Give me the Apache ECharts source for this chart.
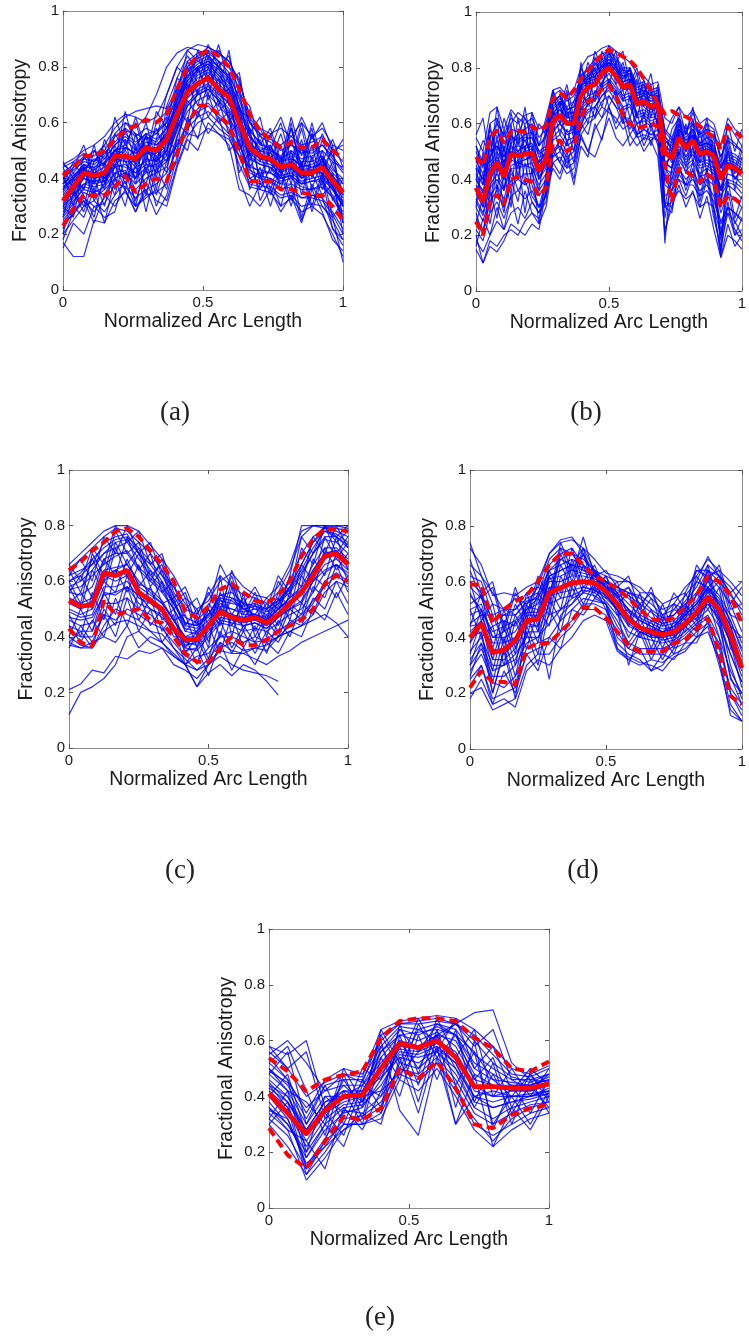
<!DOCTYPE html>
<html><head><meta charset="utf-8">
<script src="https://cdn.jsdelivr.net/npm/echarts@6/dist/echarts.min.js"></script>
<style>html,body{margin:0;padding:0;background:#fff}#c{width:749px;height:1341px}</style>
</head><body><div id="c"></div>
<script>
const yTicks=[0,0.2,0.4,0.6,0.8,1];
const xTicks=[0,0.5,1];
const xTitle='Normalized Arc Length';
const yTitle='Fractional Anisotropy';
const panelLabels=['(a)','(b)','(c)','(d)','(e)'];

// ---------- panel (a) ----------
const meanA=[.32,.37,.42,.41,.42,.48,.48,.47,.51,.50,.54,.63,.71,.74,.76,.72,.69,.60,.51,.48,.47,.44,.45,.42,.42,.44,.39,.35];
const upperA=[.41,.44,.48,.48,.50,.54,.57,.59,.61,.60,.63,.72,.80,.84,.86,.84,.80,.72,.63,.57,.54,.51,.53,.51,.51,.54,.50,.47];
const lowerA=[.23,.29,.34,.34,.34,.37,.41,.35,.38,.40,.39,.49,.59,.66,.66,.63,.59,.49,.39,.39,.39,.36,.36,.35,.34,.34,.30,.25];
const curvesA=[
[.45,.47,.50,.52,.55,.60,.63,.62,.60,.62,.70,.80,.86,.88,.87,.85,.82,.74,.63,.58,.56,.58,.55,.60,.55,.58,.52,.50],
[.17,.12,.12,.25,.24,.32,.35,.30,.33,.36,.32,.45,.55,.60,.62,.58,.55,.45,.37,.36,.35,.30,.33,.28,.30,.27,.20,.12],
[.35,.40,.45,.43,.46,.50,.52,.48,.55,.53,.58,.68,.77,.80,.82,.78,.74,.64,.55,.50,.49,.46,.48,.44,.45,.47,.42,.38],
[.28,.33,.38,.37,.38,.44,.45,.42,.47,.46,.50,.58,.67,.71,.73,.69,.65,.57,.48,.45,.44,.41,.42,.39,.40,.41,.36,.30],
[.40,.43,.46,.45,.48,.55,.58,.55,.58,.56,.62,.73,.82,.85,.86,.82,.78,.68,.58,.52,.51,.47,.50,.47,.48,.50,.46,.44],
[.25,.30,.35,.33,.36,.40,.42,.38,.42,.43,.46,.52,.60,.65,.67,.63,.60,.52,.43,.41,.40,.38,.38,.36,.36,.37,.33,.27],
[.33,.38,.43,.40,.41,.49,.47,.50,.52,.50,.56,.66,.74,.78,.80,.76,.70,.60,.50,.47,.46,.43,.45,.42,.41,.45,.38,.33],
[.30,.36,.41,.42,.40,.46,.50,.45,.50,.48,.52,.62,.72,.76,.78,.74,.70,.62,.52,.50,.52,.45,.58,.44,.56,.47,.40,.36],
[.38,.42,.47,.46,.50,.56,.60,.58,.62,.70,.80,.85,.87,.86,.84,.80,.76,.66,.56,.50,.48,.46,.47,.45,.44,.46,.40,.35],
[.30,.34,.40,.39,.40,.45,.44,.42,.45,.44,.47,.52,.56,.55,.58,.56,.54,.48,.44,.43,.42,.40,.41,.38,.39,.40,.36,.32],
[.42,.45,.47,.50,.47,.52,.56,.53,.56,.57,.60,.70,.79,.82,.84,.80,.76,.66,.57,.53,.50,.48,.52,.49,.50,.52,.48,.43],
[.22,.28,.33,.30,.31,.38,.37,.33,.36,.38,.42,.50,.60,.64,.66,.62,.58,.50,.42,.40,.39,.36,.37,.33,.34,.33,.28,.22],
[.36,.40,.44,.36,.43,.50,.49,.40,.48,.42,.50,.64,.73,.77,.79,.75,.72,.62,.53,.49,.47,.42,.46,.40,.43,.42,.37,.30],
[.27,.32,.36,.35,.37,.42,.40,.44,.46,.47,.51,.60,.69,.73,.76,.71,.67,.58,.49,.46,.45,.42,.44,.40,.42,.42,.37,.31],
[.44,.46,.49,.48,.52,.58,.62,.64,.65,.66,.65,.72,.80,.84,.87,.85,.82,.75,.62,.56,.54,.52,.55,.52,.53,.55,.50,.46],
[.20,.25,.30,.32,.28,.34,.39,.30,.34,.35,.38,.55,.66,.70,.72,.68,.62,.53,.40,.38,.36,.33,.34,.30,.31,.30,.25,.18],
[.34,.39,.43,.42,.44,.47,.51,.49,.53,.52,.55,.65,.75,.79,.81,.77,.73,.63,.52,.48,.47,.44,.46,.43,.43,.46,.41,.36],
[.31,.35,.41,.40,.41,.47,.46,.46,.49,.49,.53,.61,.69,.72,.74,.70,.67,.59,.50,.47,.47,.44,.44,.41,.42,.43,.38,.34],
[.38,.41,.44,.44,.47,.52,.55,.52,.56,.54,.58,.67,.76,.80,.82,.79,.75,.65,.55,.51,.50,.47,.49,.46,.46,.48,.43,.40],
[.26,.31,.37,.36,.34,.42,.43,.36,.40,.42,.44,.55,.64,.68,.70,.66,.62,.55,.45,.42,.42,.39,.40,.37,.36,.38,.33,.26],
[.32,.36,.40,.38,.39,.45,.48,.44,.50,.46,.50,.60,.70,.74,.77,.73,.62,.40,.30,.38,.40,.36,.38,.25,.34,.33,.22,.16],
[.40,.44,.48,.46,.49,.53,.57,.56,.54,.56,.60,.69,.78,.81,.83,.80,.77,.69,.60,.55,.53,.50,.52,.50,.49,.52,.47,.42],
[.29,.34,.38,.39,.39,.44,.42,.40,.44,.45,.48,.57,.66,.70,.72,.68,.64,.56,.47,.45,.44,.40,.41,.38,.39,.39,.34,.28],
[.36,.41,.45,.44,.45,.50,.51,.49,.51,.51,.57,.66,.75,.79,.81,.77,.72,.62,.52,.48,.46,.44,.46,.43,.44,.45,.41,.36],
[.37,.40,.43,.47,.45,.50,.54,.50,.55,.52,.56,.68,.78,.83,.85,.82,.80,.72,.60,.56,.55,.62,.52,.62,.54,.60,.50,.52],
[.24,.27,.32,.28,.33,.40,.36,.28,.36,.27,.34,.48,.58,.62,.64,.60,.56,.48,.38,.37,.37,.34,.35,.33,.33,.32,.27,.20],
[.42,.30,.45,.38,.50,.44,.58,.46,.55,.40,.62,.58,.80,.70,.84,.66,.78,.58,.55,.40,.52,.42,.60,.40,.56,.44,.50,.30],
[.20,.35,.28,.40,.30,.45,.36,.52,.34,.48,.42,.66,.60,.80,.68,.76,.60,.66,.44,.50,.36,.48,.38,.52,.36,.48,.32,.40],
[.46,.40,.36,.50,.44,.62,.52,.60,.48,.64,.58,.76,.84,.78,.88,.80,.84,.70,.66,.52,.58,.46,.62,.48,.58,.40,.52,.24],
[.15,.24,.20,.30,.26,.28,.42,.32,.44,.30,.40,.46,.62,.54,.70,.60,.64,.42,.50,.32,.40,.30,.44,.26,.38,.30,.26,.10],
[.38,.46,.40,.52,.38,.56,.50,.62,.50,.58,.48,.72,.70,.86,.76,.88,.74,.78,.56,.62,.46,.56,.44,.58,.42,.54,.44,.38],
[.30,.26,.44,.34,.46,.36,.54,.38,.50,.36,.54,.50,.74,.66,.80,.70,.72,.50,.58,.38,.50,.36,.50,.34,.48,.36,.42,.20],
[.44,.36,.30,.44,.36,.52,.40,.56,.42,.54,.70,.80,.76,.84,.74,.80,.66,.72,.48,.54,.42,.52,.40,.54,.40,.50,.36,.30],
[.26,.40,.34,.26,.42,.34,.48,.30,.46,.34,.46,.60,.56,.72,.62,.68,.56,.60,.36,.44,.34,.44,.32,.46,.30,.42,.26,.32],
[.36,.44,.52,.40,.54,.46,.64,.50,.60,.46,.56,.62,.82,.74,.86,.72,.86,.64,.62,.46,.56,.44,.58,.44,.60,.46,.54,.44],
[.22,.30,.26,.36,.24,.40,.30,.46,.28,.44,.36,.54,.50,.64,.56,.62,.50,.54,.40,.42,.30,.42,.30,.44,.28,.40,.22,.18],
[.40,.34,.48,.42,.40,.50,.46,.40,.56,.44,.66,.76,.72,.80,.70,.82,.70,.62,.46,.56,.46,.40,.54,.42,.52,.38,.46,.34],
[.32,.38,.44,.32,.38,.48,.38,.44,.38,.50,.46,.58,.68,.62,.74,.64,.68,.52,.44,.36,.44,.38,.44,.38,.42,.34,.38,.24],
[.45,.42,.36,.46,.52,.40,.60,.56,.46,.60,.64,.70,.86,.82,.80,.86,.80,.76,.60,.58,.50,.60,.46,.60,.46,.56,.48,.54],
[.18,.28,.32,.24,.34,.30,.36,.28,.38,.32,.30,.44,.54,.50,.60,.56,.52,.36,.34,.30,.36,.28,.34,.24,.36,.28,.18,.14]
];

// ---------- panel (b) ----------
const meanB=[.37,.32,.42,.46,.41,.49,.485,.49,.495,.43,.47,.61,.63,.60,.60,.70,.73,.74,.78,.80,.77,.73,.74,.67,.68,.66,.67,.50,.475,.55,.51,.54,.49,.50,.485,.40,.45,.44,.42];
const upperB=[.48,.45,.55,.575,.53,.57,.575,.57,.59,.575,.59,.69,.71,.69,.72,.76,.79,.82,.845,.865,.855,.84,.826,.80,.76,.72,.67,.635,.645,.63,.625,.61,.59,.57,.55,.51,.59,.57,.55];
const lowerB=[.25,.20,.32,.345,.31,.40,.41,.40,.39,.34,.37,.53,.54,.50,.52,.62,.68,.69,.725,.737,.70,.63,.60,.582,.59,.60,.59,.45,.32,.44,.43,.41,.39,.42,.40,.30,.34,.33,.31];
const curvesB=[
[.50,.45,.55,.60,.56,.62,.60,.63,.64,.58,.60,.72,.73,.70,.72,.80,.84,.85,.87,.88,.86,.84,.82,.78,.77,.74,.75,.62,.60,.66,.62,.65,.60,.62,.60,.52,.62,.58,.56],
[.22,.18,.28,.32,.26,.34,.36,.33,.36,.30,.34,.50,.52,.48,.50,.60,.64,.66,.70,.72,.68,.62,.62,.56,.58,.56,.56,.32,.30,.42,.38,.40,.36,.38,.34,.22,.28,.25,.20],
[.40,.36,.46,.50,.45,.52,.50,.52,.53,.46,.50,.64,.66,.62,.63,.73,.76,.77,.80,.82,.79,.75,.76,.69,.70,.68,.69,.52,.50,.57,.53,.56,.51,.52,.50,.42,.47,.46,.44],
[.33,.28,.38,.42,.37,.45,.46,.45,.46,.40,.44,.58,.60,.57,.58,.67,.70,.71,.75,.78,.74,.70,.71,.64,.65,.63,.64,.46,.44,.52,.48,.51,.46,.47,.46,.37,.42,.41,.38],
[.15,.10,.18,.16,.20,.22,.20,.25,.28,.24,.30,.46,.48,.44,.46,.56,.60,.62,.66,.64,.62,.58,.60,.55,.56,.55,.54,.40,.36,.40,.38,.38,.34,.36,.32,.25,.30,.28,.26],
[.55,.50,.64,.66,.58,.65,.62,.60,.62,.55,.58,.70,.72,.68,.70,.76,.80,.83,.85,.86,.84,.80,.80,.74,.75,.72,.73,.58,.55,.62,.58,.61,.56,.58,.57,.48,.55,.53,.50],
[.38,.33,.44,.47,.43,.50,.49,.50,.51,.45,.48,.62,.65,.61,.61,.71,.74,.75,.79,.81,.78,.74,.75,.68,.69,.67,.68,.17,.45,.56,.52,.55,.50,.51,.49,.13,.46,.45,.43],
[.44,.40,.50,.52,.48,.55,.54,.56,.57,.50,.52,.66,.69,.65,.66,.75,.78,.79,.82,.84,.81,.77,.77,.71,.72,.70,.71,.54,.52,.59,.55,.58,.53,.55,.53,.44,.50,.49,.47],
[.30,.25,.34,.38,.33,.42,.40,.42,.42,.36,.40,.55,.58,.54,.55,.65,.68,.69,.73,.75,.72,.68,.69,.62,.63,.61,.62,.44,.42,.50,.46,.49,.44,.45,.43,.34,.39,.38,.35],
[.35,.30,.40,.44,.40,.47,.46,.47,.48,.41,.45,.50,.46,.42,.44,.55,.50,.48,.55,.62,.55,.52,.56,.52,.55,.54,.56,.44,.40,.48,.45,.47,.42,.44,.42,.30,.38,.36,.33],
[.42,.38,.48,.54,.46,.56,.53,.55,.55,.48,.49,.63,.68,.64,.64,.74,.77,.78,.81,.83,.80,.76,.78,.70,.71,.69,.70,.56,.50,.58,.54,.57,.52,.53,.51,.45,.49,.48,.46],
[.18,.14,.20,.25,.22,.28,.30,.26,.32,.28,.32,.48,.50,.46,.48,.58,.62,.63,.68,.70,.66,.60,.62,.56,.58,.56,.58,.30,.32,.36,.33,.35,.30,.32,.30,.12,.20,.18,.15],
[.36,.32,.43,.45,.40,.48,.50,.47,.49,.44,.47,.60,.63,.60,.59,.69,.72,.74,.77,.79,.77,.72,.73,.67,.67,.65,.66,.49,.47,.54,.50,.53,.48,.49,.48,.40,.44,.43,.41],
[.47,.42,.52,.58,.50,.58,.57,.58,.60,.52,.55,.67,.70,.66,.68,.77,.80,.81,.84,.86,.83,.79,.79,.73,.74,.71,.72,.57,.54,.61,.57,.60,.55,.57,.56,.48,.54,.52,.50],
[.26,.22,.32,.36,.30,.38,.40,.38,.40,.34,.38,.54,.56,.52,.54,.63,.67,.68,.72,.74,.71,.66,.67,.60,.62,.60,.61,.40,.38,.47,.43,.46,.41,.42,.40,.28,.35,.33,.30],
[.52,.46,.60,.62,.55,.60,.64,.62,.58,.52,.56,.68,.70,.65,.66,.74,.77,.80,.83,.85,.82,.78,.79,.72,.73,.70,.70,.55,.53,.60,.56,.64,.56,.60,.58,.46,.60,.56,.52],
[.32,.27,.37,.40,.36,.44,.44,.45,.44,.38,.42,.57,.60,.56,.57,.66,.69,.70,.74,.76,.73,.69,.70,.63,.64,.62,.63,.46,.44,.51,.47,.50,.45,.46,.44,.36,.40,.39,.37],
[.40,.35,.45,.48,.44,.51,.52,.51,.52,.46,.49,.63,.65,.62,.62,.72,.75,.76,.79,.82,.79,.75,.76,.69,.70,.68,.69,.52,.49,.56,.52,.56,.50,.51,.50,.42,.46,.45,.43],
[.20,.10,.16,.14,.18,.24,.22,.20,.24,.22,.36,.50,.54,.50,.51,.61,.65,.66,.70,.73,.70,.65,.66,.60,.61,.59,.60,.38,.36,.44,.40,.43,.38,.40,.38,.24,.30,.28,.25],
[.45,.40,.48,.52,.46,.53,.55,.54,.55,.49,.51,.65,.68,.63,.64,.73,.76,.77,.80,.83,.80,.77,.78,.71,.72,.70,.70,.54,.51,.58,.54,.56,.52,.53,.52,.44,.48,.47,.45],
[.30,.50,.40,.62,.44,.60,.40,.58,.46,.36,.52,.66,.56,.66,.54,.74,.66,.80,.72,.86,.74,.80,.68,.76,.62,.72,.58,.40,.55,.48,.60,.46,.58,.42,.56,.30,.52,.36,.48],
[.44,.30,.56,.36,.52,.34,.58,.38,.60,.40,.46,.56,.68,.52,.64,.62,.78,.68,.84,.74,.82,.68,.76,.62,.72,.58,.66,.30,.44,.58,.44,.56,.40,.54,.36,.20,.40,.26,.34],
[.56,.62,.46,.66,.50,.64,.52,.66,.50,.60,.56,.72,.66,.74,.62,.80,.74,.86,.80,.88,.82,.86,.74,.80,.70,.78,.64,.56,.62,.66,.56,.66,.52,.62,.50,.44,.60,.50,.58],
[.16,.26,.20,.30,.22,.34,.24,.36,.28,.26,.36,.44,.40,.48,.38,.52,.48,.60,.54,.66,.58,.62,.52,.56,.50,.54,.48,.22,.30,.38,.30,.36,.26,.34,.22,.12,.24,.16,.20],
[.36,.42,.30,.50,.36,.54,.40,.52,.38,.30,.40,.60,.50,.58,.50,.66,.60,.72,.66,.76,.70,.72,.62,.70,.58,.66,.60,.26,.40,.50,.42,.52,.38,.50,.40,.18,.36,.24,.30],
[.48,.38,.60,.44,.58,.46,.62,.50,.64,.52,.62,.72,.60,.70,.60,.82,.70,.84,.76,.82,.76,.82,.72,.78,.66,.74,.62,.48,.58,.62,.50,.60,.48,.58,.46,.36,.54,.42,.50],
[.28,.20,.36,.26,.42,.30,.48,.28,.44,.24,.42,.48,.54,.44,.56,.58,.68,.62,.74,.66,.72,.60,.70,.56,.64,.52,.62,.34,.36,.46,.36,.44,.32,.42,.28,.14,.32,.20,.26],
[.40,.48,.36,.56,.42,.50,.44,.60,.42,.46,.58,.70,.62,.72,.56,.78,.72,.82,.78,.86,.80,.76,.80,.66,.76,.62,.74,.44,.50,.64,.50,.62,.46,.56,.44,.32,.50,.40,.44],
[.24,.34,.28,.44,.30,.40,.32,.46,.34,.30,.34,.52,.46,.54,.46,.60,.56,.66,.62,.70,.66,.64,.58,.64,.54,.60,.52,.20,.34,.40,.34,.42,.30,.40,.26,.16,.28,.20,.22],
[.52,.44,.58,.50,.62,.54,.56,.62,.56,.50,.48,.68,.70,.62,.68,.72,.82,.76,.86,.80,.86,.74,.80,.70,.74,.66,.68,.50,.46,.60,.52,.58,.50,.60,.48,.40,.56,.44,.52],
[.32,.36,.24,.38,.28,.44,.36,.40,.32,.28,.38,.46,.42,.50,.40,.56,.50,.58,.62,.66,.60,.66,.56,.60,.52,.58,.54,.30,.28,.44,.38,.46,.34,.44,.30,.20,.30,.22,.18],
[.46,.54,.50,.58,.48,.56,.50,.54,.48,.42,.56,.64,.60,.64,.58,.70,.68,.76,.74,.80,.76,.74,.72,.68,.66,.64,.66,.46,.48,.56,.48,.54,.46,.50,.44,.36,.46,.40,.44]
];

// ---------- panel (c) ----------
const meanC=[.53,.51,.515,.63,.62,.64,.56,.53,.50,.43,.39,.39,.44,.49,.47,.46,.47,.45,.48,.52,.56,.62,.69,.70,.66];
const upperC=[.64,.67,.71,.74,.78,.79,.76,.71,.66,.60,.49,.47,.51,.57,.59,.56,.53,.52,.55,.60,.69,.75,.79,.785,.78];
const lowerC=[.43,.38,.365,.53,.48,.49,.50,.46,.45,.40,.34,.31,.31,.36,.40,.37,.37,.39,.42,.44,.46,.50,.59,.62,.60];
const curvesC=[
[.66,.70,.74,.78,.80,.80,.78,.73,.68,.62,.54,.50,.53,.60,.63,.58,.55,.54,.58,.66,.78,.80,.80,.80,.80],
[.21,.23,.28,.27,.33,.32,.35,.34,.36,.30,.28,.25,.30,.33,.30,.28,.27,.26,.24],
[.60,.63,.68,.72,.75,.76,.72,.67,.62,.55,.47,.45,.48,.55,.56,.52,.50,.50,.54,.60,.70,.76,.79,.78,.76],
[.50,.48,.50,.62,.60,.62,.56,.54,.50,.44,.38,.37,.42,.47,.46,.45,.46,.44,.48,.52,.55,.62,.68,.70,.65],
[.40,.37,.36,.44,.50,.48,.46,.42,.41,.36,.32,.28,.30,.36,.38,.35,.36,.37,.40,.42,.44,.48,.56,.60,.58],
[.56,.55,.58,.68,.70,.70,.64,.60,.56,.50,.43,.42,.46,.52,.50,.49,.50,.48,.52,.56,.62,.70,.75,.74,.70],
[.46,.44,.45,.56,.55,.58,.52,.50,.47,.42,.36,.35,.40,.45,.44,.42,.43,.42,.45,.48,.50,.56,.63,.66,.62],
[.64,.68,.72,.76,.79,.78,.74,.70,.64,.58,.50,.48,.55,.62,.58,.55,.54,.52,.56,.64,.76,.80,.80,.79,.78],
[.37,.36,.38,.40,.38,.44,.36,.40,.38,.34,.30,.22,.27,.30,.26,.30,.28,.24,.19],
[.53,.50,.52,.60,.64,.66,.60,.56,.52,.46,.40,.40,.44,.50,.48,.47,.48,.46,.50,.54,.58,.66,.72,.72,.68],
[.58,.60,.64,.70,.72,.74,.68,.62,.58,.52,.44,.43,.48,.54,.53,.50,.51,.49,.52,.58,.66,.74,.78,.76,.72],
[.38,.36,.36,.42,.45,.46,.44,.42,.38,.33,.30,.33,.34,.40,.40,.38,.40,.38,.40,.42,.44,.46,.48,.45,.40],
[.49,.47,.48,.58,.58,.60,.54,.52,.49,.43,.37,.38,.43,.48,.47,.44,.45,.43,.47,.50,.53,.60,.66,.68,.64],
[.52,.50,.53,.62,.64,.62,.58,.55,.52,.46,.40,.42,.50,.66,.58,.50,.48,.46,.50,.54,.57,.64,.70,.71,.67],
[.62,.64,.66,.74,.76,.77,.70,.66,.60,.53,.45,.44,.47,.53,.52,.51,.52,.50,.53,.58,.64,.72,.78,.77,.74],
[.44,.42,.42,.52,.52,.54,.50,.48,.44,.36,.30,.22,.30,.35,.34,.34,.36,.35,.40,.44,.47,.52,.60,.63,.60],
[.54,.52,.54,.64,.65,.66,.59,.57,.53,.46,.39,.39,.44,.50,.48,.46,.47,.46,.50,.53,.56,.64,.70,.71,.67],
[.47,.46,.47,.55,.56,.58,.55,.50,.48,.42,.35,.36,.41,.46,.45,.44,.45,.43,.47,.50,.52,.60,.64,.66,.63],
[.12,.20,.22,.25,.30,.40,.42,.38,.36,.33,.30,.28,.32,.38,.35,.34,.32,.30,.33,.35,.38,.40,.42,.44,.46],
[.60,.62,.66,.70,.74,.75,.70,.64,.59,.52,.45,.44,.48,.55,.54,.52,.51,.50,.53,.57,.63,.70,.76,.76,.73],
[.42,.40,.40,.48,.46,.50,.48,.45,.43,.38,.33,.31,.36,.40,.42,.40,.38,.39,.42,.45,.48,.53,.58,.62,.59],
[.57,.58,.62,.66,.69,.71,.65,.61,.57,.50,.42,.41,.45,.51,.50,.48,.48,.47,.51,.62,.80,.80,.79,.80,.79],
[.60,.52,.70,.62,.78,.70,.74,.62,.66,.52,.56,.44,.58,.50,.62,.48,.56,.46,.60,.54,.72,.66,.80,.70,.76],
[.40,.50,.42,.56,.48,.62,.50,.58,.46,.50,.36,.42,.32,.46,.36,.44,.38,.46,.40,.50,.46,.58,.54,.66,.56],
[.66,.60,.72,.66,.80,.74,.78,.66,.70,.56,.50,.54,.44,.56,.48,.54,.46,.52,.48,.62,.58,.76,.70,.80,.72],
[.36,.44,.38,.48,.40,.54,.42,.50,.38,.44,.30,.36,.26,.38,.28,.36,.30,.38,.34,.42,.40,.50,.46,.56,.48],
[.56,.62,.54,.68,.62,.76,.64,.70,.56,.60,.44,.50,.38,.54,.44,.52,.42,.50,.44,.56,.52,.68,.62,.76,.64],
[.48,.40,.56,.46,.64,.56,.66,.52,.60,.46,.48,.36,.50,.40,.58,.42,.52,.40,.54,.46,.62,.56,.72,.64,.70],
[.62,.68,.60,.76,.70,.80,.70,.74,.62,.58,.52,.46,.50,.44,.54,.50,.48,.54,.50,.58,.66,.74,.80,.76,.80],
[.44,.38,.46,.40,.54,.44,.56,.44,.50,.40,.40,.30,.44,.34,.48,.36,.44,.34,.46,.40,.52,.48,.60,.54,.62],
[.52,.56,.50,.60,.56,.68,.58,.64,.52,.54,.42,.46,.36,.62,.40,.56,.40,.48,.42,.52,.48,.62,.58,.70,.60],
[.58,.50,.64,.56,.72,.62,.70,.58,.64,.50,.54,.40,.52,.46,.60,.46,.54,.44,.56,.50,.66,.60,.76,.68,.74],
[.38,.42,.36,.50,.44,.58,.46,.54,.42,.48,.34,.40,.30,.42,.34,.42,.34,.42,.38,.46,.44,.54,.50,.60,.52],
[.64,.56,.68,.60,.74,.66,.72,.60,.68,.54,.58,.48,.56,.48,.64,.52,.58,.50,.62,.56,.76,.70,.80,.74,.78]
];

// ---------- panel (d) ----------
const meanD=[.40,.45,.345,.355,.39,.46,.465,.56,.578,.595,.60,.595,.565,.52,.465,.435,.42,.41,.42,.45,.49,.545,.50,.41,.29];
const upperD=[.59,.59,.45,.50,.53,.55,.60,.66,.70,.70,.66,.62,.60,.575,.54,.50,.465,.46,.47,.51,.55,.62,.60,.55,.45];
const lowerD=[.22,.28,.24,.24,.23,.36,.38,.38,.42,.46,.51,.505,.47,.42,.37,.35,.35,.35,.38,.39,.43,.47,.35,.19,.16];
const curvesD=[
[.72,.66,.55,.56,.55,.58,.60,.70,.74,.75,.72,.68,.63,.62,.60,.58,.54,.50,.52,.58,.62,.68,.64,.60,.55],
[.18,.25,.16,.18,.15,.28,.32,.30,.36,.40,.46,.48,.46,.35,.32,.30,.32,.31,.34,.36,.40,.44,.30,.14,.10],
[.50,.52,.40,.42,.45,.50,.52,.62,.64,.66,.65,.64,.60,.56,.52,.48,.46,.44,.45,.49,.53,.60,.55,.48,.38],
[.35,.40,.30,.30,.32,.42,.42,.52,.54,.55,.57,.56,.53,.48,.42,.40,.39,.38,.39,.42,.46,.50,.44,.34,.24],
[.62,.60,.48,.50,.50,.54,.56,.64,.68,.70,.68,.64,.58,.57,.55,.52,.49,.46,.48,.52,.56,.64,.60,.55,.50],
[.28,.34,.24,.22,.26,.36,.38,.40,.46,.50,.54,.53,.52,.40,.36,.34,.34,.34,.37,.40,.44,.47,.36,.22,.16],
[.45,.48,.38,.38,.40,.48,.48,.60,.60,.62,.62,.61,.58,.54,.49,.46,.44,.42,.43,.47,.51,.56,.52,.44,.33],
[.40,.42,.20,.35,.18,.45,.44,.25,.48,.52,.58,.57,.55,.50,.30,.42,.40,.32,.40,.44,.48,.52,.46,.25,.20],
[.55,.50,.42,.44,.46,.51,.50,.66,.70,.72,.66,.62,.58,.55,.50,.46,.44,.42,.44,.48,.52,.58,.54,.46,.36],
[.32,.38,.28,.30,.34,.40,.40,.48,.50,.52,.56,.58,.55,.50,.44,.42,.40,.40,.41,.44,.47,.52,.47,.38,.28],
[.66,.62,.52,.50,.48,.52,.55,.68,.72,.70,.64,.62,.60,.58,.56,.55,.52,.48,.50,.55,.60,.69,.62,.58,.52],
[.25,.30,.18,.20,.22,.34,.36,.38,.42,.46,.52,.52,.50,.38,.34,.32,.28,.30,.36,.38,.42,.45,.38,.20,.12],
[.42,.46,.36,.34,.38,.46,.46,.58,.58,.60,.60,.60,.57,.53,.47,.44,.42,.41,.42,.46,.50,.55,.50,.41,.30],
[.58,.54,.44,.46,.44,.50,.54,.64,.66,.68,.66,.62,.60,.58,.54,.50,.47,.45,.46,.50,.55,.62,.58,.52,.42],
[.38,.44,.32,.32,.36,.44,.44,.55,.56,.57,.58,.57,.54,.50,.45,.42,.41,.39,.40,.44,.48,.53,.48,.38,.26],
[.20,.22,.14,.16,.18,.30,.34,.34,.40,.44,.50,.50,.48,.36,.33,.31,.30,.28,.33,.35,.40,.42,.32,.16,.10],
[.48,.50,.40,.40,.42,.49,.49,.61,.62,.64,.63,.62,.59,.55,.50,.47,.45,.43,.44,.48,.52,.57,.53,.46,.35],
[.52,.55,.46,.48,.50,.56,.58,.70,.75,.76,.70,.63,.58,.52,.48,.44,.43,.42,.44,.48,.52,.58,.52,.44,.30],
[.30,.36,.26,.26,.30,.38,.40,.45,.50,.54,.56,.55,.52,.44,.38,.36,.36,.36,.38,.41,.45,.48,.40,.28,.20],
[.60,.56,.46,.48,.48,.53,.54,.62,.64,.66,.64,.63,.60,.58,.56,.54,.50,.47,.48,.53,.58,.66,.62,.56,.48],
[.44,.45,.34,.36,.38,.46,.48,.56,.58,.60,.60,.59,.56,.51,.46,.43,.41,.40,.41,.45,.49,.54,.49,.40,.30],
[.60,.46,.52,.36,.48,.40,.54,.48,.66,.58,.70,.56,.62,.52,.56,.44,.50,.40,.52,.46,.62,.56,.60,.44,.40],
[.34,.46,.28,.44,.30,.48,.38,.58,.50,.66,.56,.64,.54,.56,.44,.52,.40,.48,.40,.52,.46,.64,.48,.30,.18],
[.68,.56,.60,.44,.58,.46,.60,.52,.72,.62,.76,.62,.64,.58,.62,.50,.58,.46,.56,.50,.66,.60,.66,.52,.58],
[.26,.38,.20,.36,.22,.42,.30,.50,.42,.58,.50,.58,.50,.42,.36,.42,.32,.40,.34,.44,.40,.54,.40,.20,.14],
[.50,.40,.44,.30,.46,.36,.50,.44,.62,.54,.66,.54,.60,.48,.50,.40,.46,.36,.46,.42,.56,.50,.58,.36,.32],
[.44,.56,.36,.50,.36,.56,.44,.64,.56,.72,.60,.66,.56,.60,.46,.56,.42,.52,.42,.56,.48,.66,.50,.38,.22],
[.74,.62,.56,.50,.54,.52,.58,.56,.68,.66,.72,.64,.62,.60,.60,.56,.56,.52,.54,.56,.64,.64,.62,.56,.60],
[.22,.30,.16,.28,.20,.34,.28,.40,.36,.50,.48,.54,.52,.36,.32,.36,.28,.34,.32,.38,.38,.46,.32,.12,.10],
[.56,.48,.48,.38,.52,.44,.56,.50,.70,.60,.72,.58,.62,.54,.58,.48,.54,.44,.50,.48,.60,.58,.62,.48,.46],
[.38,.50,.32,.46,.34,.52,.42,.62,.54,.68,.58,.62,.56,.50,.40,.48,.36,.46,.38,.50,.44,.62,.46,.34,.24],
[.64,.54,.58,.42,.56,.48,.62,.54,.74,.64,.70,.60,.60,.56,.58,.52,.56,.48,.52,.50,.64,.62,.64,.50,.52],
[.30,.42,.24,.40,.26,.44,.34,.54,.46,.60,.52,.60,.52,.46,.38,.44,.34,.42,.36,.46,.42,.58,.44,.26,.16]
];

// ---------- panel (e) ----------
const meanE=[.41,.34,.265,.35,.40,.405,.50,.59,.575,.60,.54,.435,.435,.43,.43,.445];
const upperE=[.537,.49,.418,.46,.477,.49,.61,.67,.68,.68,.67,.61,.573,.50,.49,.525];
const lowerE=[.286,.19,.143,.239,.328,.316,.358,.50,.465,.525,.43,.30,.286,.334,.358,.37];
const curvesE=[
[.55,.60,.52,.42,.48,.45,.62,.66,.67,.68,.66,.62,.55,.48,.47,.50],
[.30,.22,.12,.20,.30,.30,.32,.46,.42,.50,.40,.28,.22,.28,.32,.34],
[.45,.38,.28,.38,.42,.42,.54,.62,.60,.63,.58,.46,.44,.44,.44,.46],
[.36,.30,.20,.30,.36,.37,.44,.55,.54,.56,.50,.40,.38,.40,.40,.42],
[.50,.44,.32,.44,.46,.46,.58,.65,.64,.66,.64,.55,.50,.46,.46,.48],
[.40,.32,.15,.25,.35,.34,.40,.50,.48,.54,.46,.34,.30,.34,.37,.38],
[.58,.55,.60,.36,.42,.40,.56,.64,.62,.65,.62,.50,.46,.45,.44,.47],
[.34,.28,.10,.18,.28,.32,.36,.52,.50,.56,.48,.36,.32,.36,.38,.40],
[.48,.42,.30,.40,.40,.44,.52,.60,.58,.62,.60,.48,.44,.42,.42,.44],
[.42,.36,.24,.34,.38,.40,.42,.48,.56,.62,.66,.70,.71,.52,.46,.45],
[.38,.30,.18,.28,.34,.36,.46,.56,.55,.58,.52,.40,.36,.38,.40,.41],
[.44,.40,.26,.36,.44,.38,.60,.35,.26,.54,.30,.40,.42,.40,.40,.43],
[.52,.46,.34,.46,.50,.48,.60,.66,.66,.67,.66,.60,.52,.47,.45,.48],
[.32,.26,.14,.24,.30,.30,.34,.48,.45,.52,.44,.30,.26,.30,.34,.36],
[.46,.40,.28,.38,.40,.42,.50,.58,.57,.60,.56,.44,.40,.42,.42,.44],
[.40,.35,.22,.32,.37,.38,.48,.57,.56,.59,.55,.42,.40,.40,.41,.42],
[.56,.50,.40,.45,.48,.47,.64,.67,.68,.69,.68,.64,.58,.50,.48,.51],
[.35,.32,.16,.22,.32,.33,.38,.50,.47,.52,.42,.32,.24,.32,.36,.38],
[.43,.38,.26,.36,.39,.41,.47,.54,.52,.57,.52,.38,.36,.38,.39,.41],
[.49,.45,.36,.42,.44,.44,.56,.62,.63,.64,.62,.52,.48,.44,.44,.46],
[.58,.50,.56,.32,.46,.36,.64,.52,.68,.56,.68,.50,.58,.42,.50,.44],
[.32,.42,.18,.30,.22,.40,.34,.62,.44,.64,.44,.56,.30,.40,.30,.42],
[.52,.58,.42,.26,.48,.32,.58,.46,.66,.54,.62,.46,.54,.36,.48,.38],
[.36,.28,.24,.14,.36,.28,.42,.58,.38,.62,.36,.60,.28,.44,.34,.46],
[.48,.56,.30,.44,.30,.46,.36,.66,.48,.68,.54,.64,.40,.50,.40,.50],
[.44,.36,.12,.24,.42,.30,.54,.40,.62,.46,.64,.38,.52,.30,.46,.34],
[.54,.46,.20,.40,.34,.50,.46,.64,.56,.66,.62,.56,.46,.40,.48,.40],
[.30,.38,.14,.22,.28,.34,.30,.54,.34,.58,.30,.48,.22,.36,.28,.40],
[.50,.42,.38,.30,.50,.38,.62,.50,.64,.60,.66,.58,.64,.46,.42,.48],
[.40,.48,.26,.34,.26,.44,.40,.60,.50,.62,.50,.36,.48,.34,.44,.36]
];

const panels=[
 {mean:meanA,upper:upperA,lower:lowerA,curves:curvesA,box:{left:63,top:11,width:280,height:279},lab:[175,413]},
 {mean:meanB,upper:upperB,lower:lowerB,curves:curvesB,box:{left:476,top:12,width:280,height:279},lab:[586,413]},
 {mean:meanC,upper:upperC,lower:lowerC,curves:curvesC,box:{left:69,top:470,width:279,height:278},lab:[180,871]},
 {mean:meanD,upper:upperD,lower:lowerD,curves:curvesD,box:{left:470,top:470,width:278,height:279},lab:[583,871]},
 {mean:meanE,upper:upperE,lower:lowerE,curves:curvesE,box:{left:269,top:929,width:280,height:279},lab:[380,1318]}
];

const frame='#8c8c8c', tickCol='#555', txt='#1a1a1a', sans='"Liberation Sans", Arial, sans-serif';
const grid=[], xAxis=[], yAxis=[], series=[], graphic=[];
panels.forEach((p,k)=>{
  grid.push(Object.assign({containLabel:false},p.box));
  const n=p.mean.length;
  const xs=p.mean.map((_,i)=>i/(n-1));
  const tick={show:true,inside:true,length:4,lineStyle:{color:tickCol,width:1}};
  const line={show:true,onZero:false,lineStyle:{color:frame,width:1}};
  const base={type:'value',min:xTicks[0],max:xTicks[xTicks.length-1],interval:xTicks[1]-xTicks[0],gridIndex:k,splitLine:{show:false},axisLine:line,axisTick:tick};
  xAxis.push(Object.assign({},base,{position:'bottom',
    axisLabel:{show:true,margin:5,fontSize:15,fontFamily:sans,color:txt},
    name:xTitle,nameLocation:'middle',nameGap:22,nameTextStyle:{fontSize:19.5,fontFamily:sans,color:txt}}));
  xAxis.push(Object.assign({},base,{position:'top',axisLabel:{show:false}}));
  const ybase={type:'value',min:yTicks[0],max:yTicks[yTicks.length-1],interval:yTicks[1]-yTicks[0],gridIndex:k,splitLine:{show:false},axisLine:line,axisTick:tick};
  yAxis.push(Object.assign({},ybase,{position:'left',
    axisLabel:{show:true,margin:4,fontSize:15,fontFamily:sans,color:txt},
    name:yTitle,nameLocation:'middle',nameGap:32,nameTextStyle:{fontSize:19.5,fontFamily:sans,color:txt}}));
  yAxis.push(Object.assign({},ybase,{position:'right',axisLabel:{show:false}}));
  const xi=2*k, yi=2*k;
  p.curves.forEach(c=>{
    series.push({type:'line',xAxisIndex:xi,yAxisIndex:yi,data:c.map((v,i)=>[xs[i],v]),
      symbol:'none',showSymbol:false,silent:true,z:2,
      lineStyle:{color:'#0000ff',width:1.2,opacity:0.82}});
  });
  [[p.upper,[9,5]],[p.lower,[9,5]],[p.mean,'solid']].forEach(([arr,t])=>{
    series.push({type:'line',xAxisIndex:xi,yAxisIndex:yi,data:arr.map((v,i)=>[xs[i],v]),
      symbol:'none',showSymbol:false,silent:true,z:5,
      lineStyle:{color:'#ff0000',width:t==='solid'?4.8:4,type:t}});
  });
  graphic.push({type:'text',x:p.lab[0],y:p.lab[1],
    style:{text:panelLabels[k],font:'27px "Liberation Serif", "DejaVu Serif", serif',fill:'#222',align:'center',verticalAlign:'middle'}});
});

const chart=echarts.init(document.getElementById('c'),null,{renderer:'canvas'});
chart.setOption({animation:false,backgroundColor:'#fff',grid,xAxis,yAxis,series,graphic});
</script></body></html>
